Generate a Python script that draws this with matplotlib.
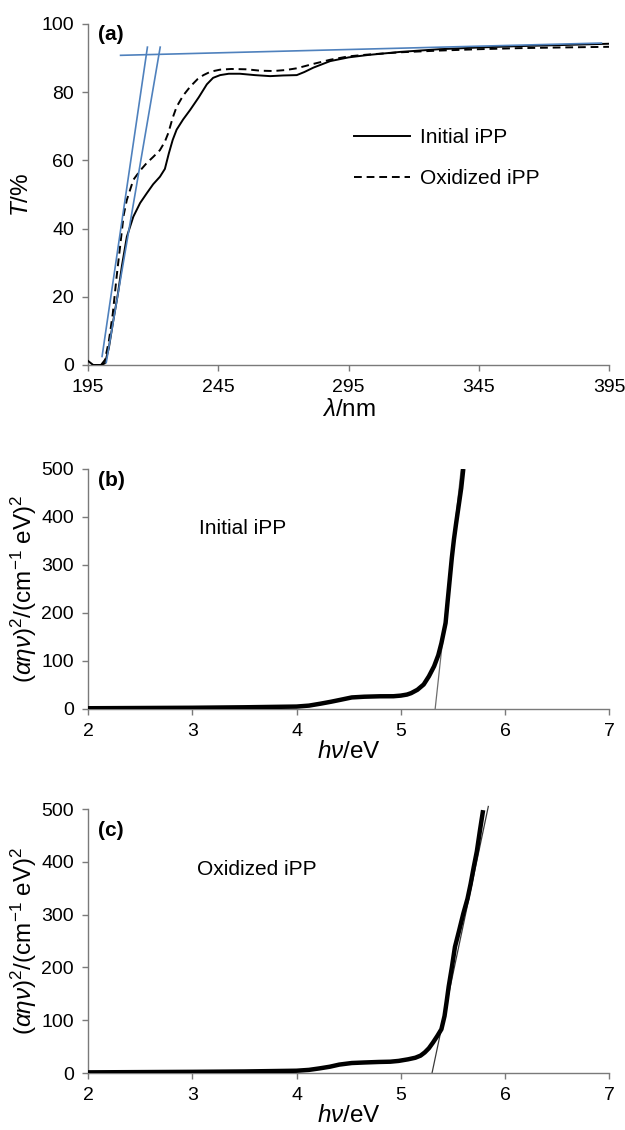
"""UV-vis transmittance of iPP films and Tauc plots for the optical band gap."""
import matplotlib
matplotlib.use("Agg")
import matplotlib.pyplot as plt
from matplotlib import rcParams

rcParams["font.family"] = ["Liberation Sans", "DejaVu Sans"]
rcParams["mathtext.fontset"] = "custom"
rcParams["mathtext.rm"] = "Liberation Sans"
rcParams["mathtext.it"] = "Liberation Sans:italic"
rcParams["mathtext.bf"] = "Liberation Sans:bold"
rcParams["font.size"] = 14

AXIS_GREY = "#7a7a7a"
TANGENT_BLUE = "#4f81bd"
LABEL_SIZE = 17.5

# (a) transmittance spectra
wl_init = [195, 197, 200, 201.5, 203, 204.7, 206.5, 208, 209.9, 212.4, 215, 217.5,
           220, 222.6, 224.5, 226, 227.5, 229, 231.5, 234.2, 237.5, 240.6, 243,
           245.7, 249, 253.3, 259, 264.9, 270, 275.1, 278, 281.5, 287.9, 295,
           302.4, 314.7, 330, 345, 360, 376, 395]
T_init = [1.2, 0, 0, 0.5, 5, 13, 21, 29, 37.6, 43.5, 47.5, 50.3,
          53, 55.2, 57.5, 62, 66, 69, 72, 74.8, 78.5, 82.3, 84.2,
          85, 85.4, 85.4, 85, 84.7, 84.9, 85, 85.9, 87.2, 89.1, 90.2,
          90.9, 91.8, 92.6, 93.1, 93.5, 93.8, 94.2]
wl_oxid = [200, 201.5, 203, 204.5, 206, 207.5, 208.7, 209.9, 212.4, 215, 217.5, 220,
           222.6, 224.5, 225.8, 227.5, 229, 231.5, 234.2, 237, 239.3, 242,
           245.7, 250, 255.9, 261, 266.1, 271, 275.1, 281, 287.9, 295, 302,
           315, 330, 345, 360, 376, 395]
T_oxid = [0, 1.5, 7, 15, 26, 36, 44, 48.4, 54.3, 57, 59.2, 61,
          63, 65.5, 68, 72.5, 75.7, 79, 81.6, 83.8, 85, 86,
          86.6, 86.8, 86.7, 86.3, 86.2, 86.5, 87, 88.2, 89.5, 90.5, 91,
          91.7, 92.2, 92.6, 92.9, 93.1, 93.3]

# tangent construction on the absorption edge
base_wl = [207.5, 392]
base_T = [90.8, 94.4]
edge1_wl = [200.4, 217.8]
edge1_T = [2.5, 93.2]
edge2_wl = [202.0, 222.7]
edge2_T = [0.7, 93.2]

# (b), (c) Tauc plots
hv_init = [2.0, 2.5, 3.0, 3.5, 4.0, 4.12, 4.23, 4.33, 4.42, 4.53, 4.65, 4.8, 4.93,
           5.0, 5.06, 5.1, 5.16, 5.22, 5.27, 5.32, 5.36, 5.39, 5.43, 5.45, 5.47,
           5.49, 5.51, 5.53, 5.55, 5.58, 5.6]
tauc_init = [1.5, 2, 2.5, 3.5, 5, 7, 11, 15, 19, 24, 25.5, 26.4, 26.5,
             27.8, 30, 33, 40, 51, 68, 89, 112, 137, 179, 225, 270,
             315, 353, 385, 415, 460, 500]
hv_oxid = [2.0, 2.5, 3.0, 3.5, 4.0, 4.12, 4.22, 4.32, 4.41, 4.53, 4.65, 4.79, 4.9,
           4.98, 5.07, 5.14, 5.19, 5.23, 5.27, 5.31, 5.35, 5.39, 5.42, 5.44, 5.46,
           5.49, 5.52, 5.56, 5.6, 5.64, 5.67, 5.7, 5.73, 5.76, 5.79]
tauc_oxid = [1.3, 1.8, 2.3, 3, 4.4, 6, 8.8, 12, 16, 19, 20, 21, 21.5,
             23, 26, 29, 33, 39, 47, 58, 70, 83, 108, 135, 164,
             200, 239, 270, 302, 330, 358, 390, 420, 460, 498]
fit_init_hv = [5.33, 5.58]
fit_init_y = [0, 500]
fit_oxid_hv = [5.30, 5.84]
fit_oxid_y = [0, 505]

fig = plt.figure(figsize=(6.25, 11.3), dpi=100)
ax_a = fig.add_axes([0.1408, 0.677, 0.834, 0.3018])
ax_b = fig.add_axes([0.1408, 0.3726, 0.834, 0.2124])
ax_c = fig.add_axes([0.1408, 0.0504, 0.834, 0.2336])


def style_axes(ax):
    for side in ("top", "right"):
        ax.spines[side].set_visible(False)
    for side in ("left", "bottom"):
        ax.spines[side].set_color(AXIS_GREY)
        ax.spines[side].set_linewidth(1.0)
    ax.tick_params(direction="out", length=4, width=1.0, color=AXIS_GREY,
                   labelsize=14)
    ax.tick_params(axis="x", pad=6)
    ax.tick_params(axis="y", pad=6)


# --- (a) ---
ax_a.plot(wl_init, T_init, color="black", lw=1.4, label="Initial iPP", zorder=3)
ax_a.plot(wl_oxid, T_oxid, color="black", lw=1.4, ls=(0, (4, 2.5)),
          label="Oxidized iPP", zorder=3)
for xs, ys in ((base_wl, base_T), (edge1_wl, edge1_T), (edge2_wl, edge2_T)):
    ax_a.plot(xs, ys, color=TANGENT_BLUE, lw=1.2, zorder=4)
ax_a.set_xlim(195, 395)
ax_a.set_ylim(0, 100)
ax_a.set_xticks([195, 245, 295, 345, 395])
ax_a.set_yticks([0, 20, 40, 60, 80, 100])
style_axes(ax_a)
ax_a.set_xlabel(r"$\lambda$/nm", fontsize=LABEL_SIZE, labelpad=2)
ax_a.set_ylabel(r"$T$/%", fontsize=LABEL_SIZE, labelpad=6)
ax_a.text(0.02, 0.97, "(a)", transform=ax_a.transAxes, fontsize=15,
          fontweight="bold", ha="left", va="center")
ax_a.legend(loc="upper left", bbox_to_anchor=(0.49, 0.725), frameon=False,
            handlelength=2.7, handletextpad=0.5, labelspacing=1.05,
            borderpad=0, fontsize=15)

# --- (b) ---
ax_b.plot(fit_init_hv, fit_init_y, color="#6e6e6e", lw=0.9, zorder=2)
ax_b.plot(hv_init, tauc_init, color="black", lw=3.2, solid_capstyle="butt",
          zorder=3)
ax_b.set_xlim(2, 7)
ax_b.set_ylim(0, 500)
ax_b.set_yticks([0, 100, 200, 300, 400, 500])
style_axes(ax_b)
ax_b.text(3.06, 375, "Initial iPP", fontsize=15, ha="left", va="center")
ax_b.text(0.02, 0.95, "(b)", transform=ax_b.transAxes, fontsize=15,
          fontweight="bold", ha="left", va="center")

# --- (c) ---
ax_c.plot(fit_oxid_hv, fit_oxid_y, color="#3a3a3a", lw=0.9, zorder=2,
          clip_on=False)
ax_c.plot(hv_oxid, tauc_oxid, color="black", lw=3.2, solid_capstyle="butt",
          zorder=3)
ax_c.set_xlim(2, 7)
ax_c.set_ylim(0, 500)
ax_c.set_yticks([0, 100, 200, 300, 400, 500])
style_axes(ax_c)
ax_c.text(3.05, 386, "Oxidized iPP", fontsize=15, ha="left", va="center")
ax_c.text(0.02, 0.92, "(c)", transform=ax_c.transAxes, fontsize=15,
          fontweight="bold", ha="left", va="center")

tauc_ylabel = r"$(\alpha\eta\nu)^{2}/(\mathrm{cm}^{-1}\ \mathrm{eV})^{2}$"
for ax in (ax_b, ax_c):
    ax.set_xlabel(r"$h\nu$/eV", fontsize=LABEL_SIZE, labelpad=1)
    ax.set_ylabel(tauc_ylabel, fontsize=LABEL_SIZE, labelpad=2)

fig.savefig("out.png", dpi=100, facecolor="white")
